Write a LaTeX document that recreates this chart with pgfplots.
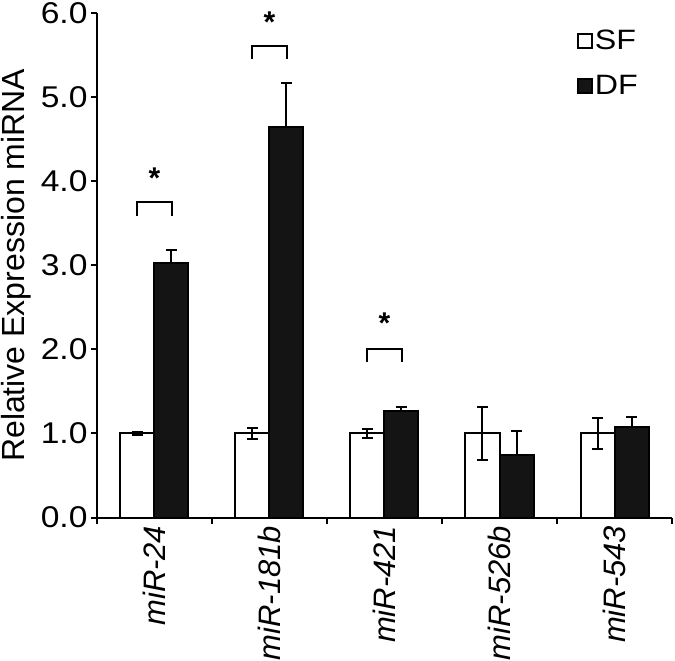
\documentclass[border=0pt]{standalone}
\usepackage{fontspec}
\setmainfont{Liberation Sans}
\newfontfamily\stretchfont{Liberation Sans}[FakeStretch=1.12]
\newfontfamily\legfont{Liberation Sans}[FakeStretch=1.15]
\usepackage{pgfplots}
\pgfplotsset{compat=1.18}
\begin{document}
\begin{tikzpicture}
\begin{axis}[
  name=ax,
  scale only axis,
  width=575pt, height=504.6pt,
  xmin=-0.5, xmax=4.5, ymin=0, ymax=6,
  axis x line=bottom, axis y line=left,
  axis line style={-, line width=2pt},
  ybar=0pt, bar width=34pt,
  xtick={-0.5,0.5,1.5,2.5,3.5,4.5},
  xticklabels={miR-24,miR-181b,miR-421,miR-526b,miR-543},
  x tick label as interval,
  xticklabel style={rotate=90, anchor=east, inner sep=2pt, font=\fontsize{31}{34}\selectfont\itshape},
  ytick={0,1,2,3,4,5,6},
  yticklabel style={font=\fontsize{30}{33}\selectfont\stretchfont},
  /pgf/number format/assume math mode=true,
  yticklabel={\pgfmathprintnumber[fixed,fixed zerofill,precision=1]{\tick}},
  tick align=outside,
  major tick length=6pt,
  tick style={line width=2pt, black},
  ylabel={Relative Expression miRNA},
  ylabel style={at={(axis description cs:-0.115,0.5)}, anchor=south, rotate=0, inner sep=0pt, font=\fontsize{32}{35}\selectfont},
  clip=false,
  legend style={draw=none, fill=none, at={(axis description cs:0.835,0.97)}, anchor=north west,
    font=\fontsize{28}{31}\selectfont\legfont, row sep=20pt, inner sep=0pt},
  legend cell align=left,
  legend image code/.code={\draw[#1, line width=1.6pt] (0pt,-7pt) rectangle (14pt,7pt);},
  error bars/error bar style={line width=2pt, black},
  error bars/error mark options={rotate=90, mark size=5.5pt, line width=2pt, black},
]
\addplot[draw=black, fill=white, line width=2pt,
  error bars/.cd, y dir=both, y explicit]
  coordinates {(0,1.00) +- (0,0.02) (1,1.00) +- (0,0.07) (2,1.00) +- (0,0.05) (3,1.00) +- (0,0.31) (4,1.00) +- (0,0.18)};
\addplot[draw=black, fill=black!92, line width=2pt,
  error bars/.cd, y dir=plus, y explicit]
  coordinates {(0,3.03) +- (0,0.15) (1,4.65) +- (0,0.52) (2,1.27) +- (0,0.05) (3,0.75) +- (0,0.28) (4,1.08) +- (0,0.12)};
\legend{SF,DF}
\draw[line width=2pt] (axis cs:-0.152,3.59) -- (axis cs:-0.152,3.75) -- (axis cs:0.152,3.75) -- (axis cs:0.152,3.59);
\draw[line width=2pt] (axis cs:0.848,5.45) -- (axis cs:0.848,5.61) -- (axis cs:1.152,5.61) -- (axis cs:1.152,5.45);
\draw[line width=2pt] (axis cs:1.848,1.85) -- (axis cs:1.848,2.01) -- (axis cs:2.152,2.01) -- (axis cs:2.152,1.85);
\node[font=\fontsize{30}{32}\selectfont\bfseries, inner sep=0pt] at (axis cs:0,4.03) {*};
\node[font=\fontsize{30}{32}\selectfont\bfseries, inner sep=0pt] at (axis cs:1,5.89) {*};
\node[font=\fontsize{30}{32}\selectfont\bfseries, inner sep=0pt] at (axis cs:2,2.31) {*};
\end{axis}
\pgfresetboundingbox
\path ([xshift=-97pt,yshift=-143pt]ax.south west) rectangle ([xshift=3pt,yshift=13pt]ax.north east);
\end{tikzpicture}
\end{document}
